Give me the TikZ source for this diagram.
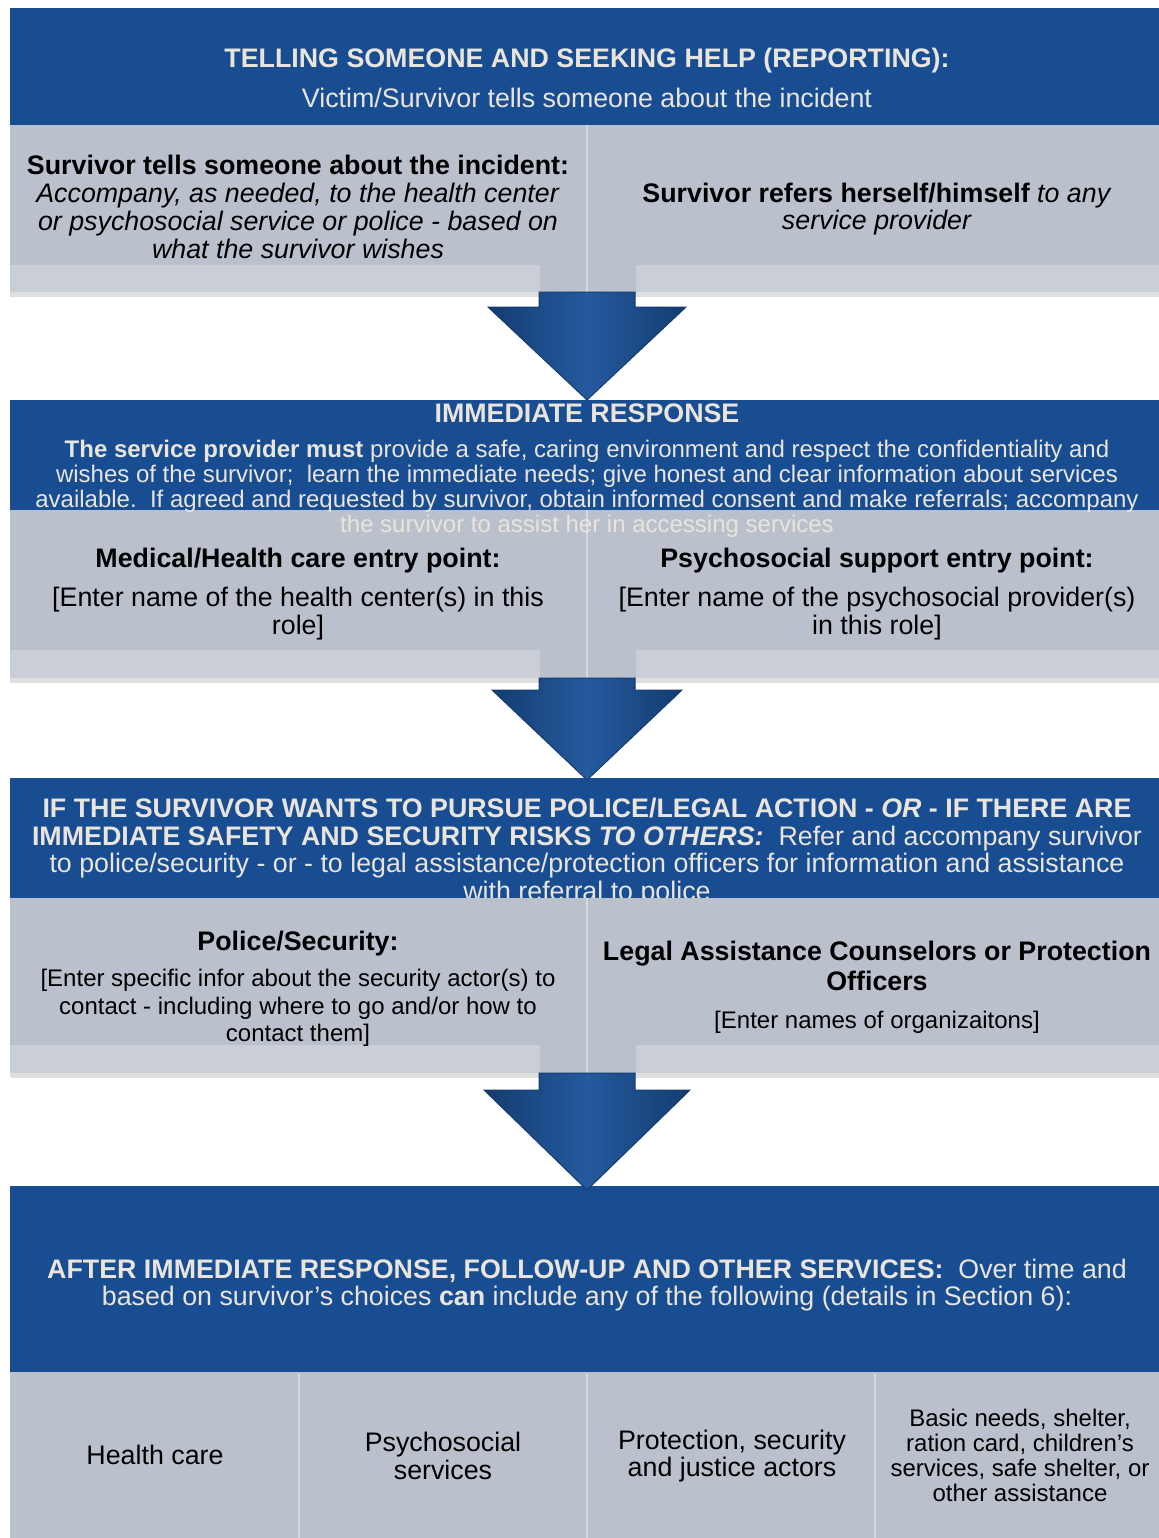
\documentclass[tikz,border=0pt]{standalone}
\usepackage{fontspec}
\setmainfont{Liberation Sans}
\usepackage{tikz}
\usetikzlibrary{positioning,calc,shadows}

\definecolor{hdrblue}{RGB}{24,77,146}
\definecolor{hdrtext}{RGB}{233,229,221}
\definecolor{panelgrey}{RGB}{186,192,204}
\definecolor{stripgrey}{RGB}{202,206,214}
\definecolor{divgrey}{RGB}{214,218,226}
\definecolor{arrowblue}{RGB}{36,90,158}
\definecolor{arrowedge}{RGB}{20,60,112}

\newcommand{\mainsz}{\fontsize{13.4}{13.9}\selectfont}
\newcommand{\smallsz}{\fontsize{12}{12.5}\selectfont}

\begin{document}
\begin{tikzpicture}[x=0.5pt, y=-0.5pt,
                    header/.style={fill=hdrblue},
                    panel/.style={fill=panelgrey, drop shadow={shadow xshift=0pt, shadow yshift=-2.5pt, opacity=0.25}},
                    strip/.style={fill=stripgrey},
                    divider/.style={draw=divgrey, line width=0.8pt},
                    hdrtxt/.style={text=hdrtext, align=center, inner sep=0pt, font=\mainsz},
                    boxtxt/.style={text=black, align=center, inner sep=0pt, font=\mainsz},
                    flowarrow/.style={left color=arrowedge, right color=arrowedge, middle color=arrowblue, draw=arrowedge, line width=0.5pt}]

\useasboundingbox (0,0) rectangle (1159,1538);

% Blue header bands
\fill[header] (10,8) rectangle (1159,125);
\fill[header] (10,400) rectangle (1159,510);
\fill[header] (10,778) rectangle (1159,898);
\fill[header] (10,1186) rectangle (1159,1372);

% Header texts (the police one sits under its panel)
\node[hdrtxt, font=\mainsz\bfseries] (tellhead) at (587,61) {TELLING SOMEONE AND SEEKING HELP (REPORTING):};
\node[hdrtxt] (tellsub) at (587,98) {Victim/Survivor tells someone about the incident};
\node[hdrtxt] (policehead) at (587,852) {{\bfseries IF THE SURVIVOR WANTS TO PURSUE POLICE/LEGAL ACTION - \textit{OR} - IF THERE ARE}\\
  {\bfseries IMMEDIATE SAFETY AND SECURITY RISKS \textit{TO OTHERS:}}\ \ Refer and accompany survivor\\
  to police/security - or - to legal assistance/protection officers for information and assistance\\
  with referral to police};
\node[hdrtxt] (afterhead) at (587,1285) {{\bfseries AFTER IMMEDIATE RESPONSE, FOLLOW-UP AND OTHER SERVICES:}\ \ Over time and\\
  based on survivor’s choices {\bfseries can} include any of the following (details in Section 6):};

% Grey panels with their lighter bottom strips
\fill[panel] (10,125) rectangle (1159,292);
\fill[strip] (10,265) rectangle (540,292);
\fill[strip] (636,265) rectangle (1159,292);
\fill[panel] (10,510) rectangle (1159,678);
\fill[strip] (10,650) rectangle (540,678);
\fill[strip] (636,650) rectangle (1159,678);
\fill[panel] (10,898) rectangle (1159,1073);
\fill[strip] (10,1045) rectangle (540,1073);
\fill[strip] (636,1045) rectangle (1159,1073);
\fill[panelgrey] (10,1372) rectangle (1159,1538);

% Column dividers
\draw[divider] (587,125) -- (587,292);
\draw[divider] (587,510) -- (587,678);
\draw[divider] (587,898) -- (587,1073);
\foreach \xd in {299,587,875}
  \draw[divider] (\xd,1374) -- (\xd,1538);

% Immediate response header
\node[hdrtxt, font=\mainsz\bfseries] (immhead) at (587,413) {IMMEDIATE RESPONSE};
\node[hdrtxt, font=\smallsz] (immbody) at (587,489) {{\bfseries The service provider must }provide a safe, caring environment and respect the confidentiality and\\
  wishes of the survivor;\ \ learn the immediate needs; give honest and clear information about services\\
  available.\ \ If agreed and requested by survivor, obtain informed consent and make referrals; accompany\\
  the survivor to assist her in accessing services};

% Panel texts
\node[boxtxt] (tellleft) at (298,207) {{\bfseries Survivor tells someone about the incident:}\\
  \textit{Accompany, as needed, to the health center}\\
  \textit{or psychosocial service or police - based on}\\
  \textit{what the survivor wishes}};
\node[boxtxt] (tellright) at (877,209) {{\bfseries Survivor refers herself/himself} \textit{to any}\\
  \textit{service provider}};

\node[boxtxt] (medical) at (298,594) {{\bfseries Medical/Health care entry point:}\\[6pt]
  {[}Enter name of the health center(s) in this\\ role]};
\node[boxtxt] (psycho) at (877,594) {{\bfseries Psychosocial support entry point:}\\[6pt]
  {[}Enter name of the psychosocial provider(s)\\ in this role]};

\node[boxtxt] (police) at (298,989) {{\bfseries Police/Security:}\\[4pt]
  {\smallsz [Enter specific infor about the security actor(s) to}\\
  {\smallsz contact - including where to go and/or how to}\\
  {\smallsz contact them]}};
\node[boxtxt] (legal) at (877,987) {{\bfseries Legal Assistance Counselors or Protection}\\[1pt]
  {\bfseries Officers}\\[5pt]
  {\smallsz [Enter names of organizaitons]}};

\node[boxtxt] (health) at (155,1455) {Health care};
\node[boxtxt] (psyserv) at (443,1456) {Psychosocial\\ services};
\node[boxtxt] (justice) at (732,1456) {Protection, security\\ and justice actors};
\node[boxtxt, font=\smallsz] (basic) at (1020,1455) {Basic needs, shelter,\\ ration card, children’s\\ services, safe shelter, or\\ other assistance};

% Block arrows between the steps
\coordinate (a1) at (587,292);  \coordinate (t1) at (587,400);
\coordinate (a2) at (587,678);  \coordinate (t2) at (587,780);
\coordinate (a3) at (587,1073); \coordinate (t3) at (587,1190);
\foreach \n/\hw/\hy in {1/99/15, 2/95/12, 3/103/17}
  \draw[flowarrow] ($(a\n)+(-48,0)$) -- ($(a\n)+(48,0)$) -- ($(a\n)+(48,\hy)$) -- ($(a\n)+(\hw,\hy)$)
    -- (t\n) -- ($(a\n)+(-\hw,\hy)$) -- ($(a\n)+(-48,\hy)$) -- cycle;

\end{tikzpicture}
\end{document}
